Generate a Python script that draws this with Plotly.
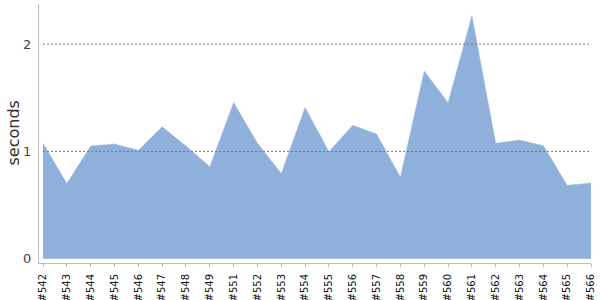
import plotly.graph_objects as go

builds = ["#542", "#543", "#544", "#545", "#546", "#547", "#548", "#549", "#551", "#552",
          "#553", "#554", "#555", "#556", "#557", "#558", "#559", "#560", "#561", "#562",
          "#563", "#564", "#565", "#566"]
seconds = [1.075, 0.70, 1.05, 1.07, 1.01, 1.23, 1.05, 0.857, 1.457, 1.075,
           0.795, 1.41, 0.997, 1.243, 1.162, 0.76, 1.75, 1.454, 2.265, 1.075,
           1.106, 1.053, 0.684, 0.705]
grid_values = [1, 2]
y_ticks = [0, 1, 2]
y_title = "seconds"

fig = go.Figure()
fig.add_trace(go.Scatter(
    x=list(range(len(builds))), y=seconds, mode="lines", fill="tozeroy",
    fillcolor="#8fb0da", line=dict(width=0.5, color="#9dbbe0"),
    hoverinfo="skip", showlegend=False,
))

shapes = []
for g in grid_values:
    shapes.append(dict(type="line", xref="x", yref="y", x0=0, x1=len(builds) - 1,
                       y0=g, y1=g, layer="above",
                       line=dict(color="#777777", width=1, dash="2px,2px")))

fig.update_layout(
    width=600, height=300,
    margin=dict(l=39, r=9, t=4, b=37),
    paper_bgcolor="white", plot_bgcolor="white",
    font=dict(family="DejaVu Sans", color="#444444"),
    shapes=shapes,
    annotations=[dict(text=y_title, xref="paper", yref="paper", x=-26 / 552, y=0.5,
                      xanchor="center", yanchor="middle", textangle=-90, showarrow=False,
                      font=dict(size=16, color="#333333"))],
    xaxis=dict(
        range=[-0.17, len(builds) - 1], tickmode="array",
        tickvals=list(range(len(builds))), ticktext=builds,
        tickangle=-90, tickfont=dict(size=10, color="#111111"),
        showgrid=False, zeroline=False, showline=True, linecolor="#bbbbbb",
        linewidth=1, ticks="outside", ticklen=3, tickcolor="#bbbbbb",
        ticklabelstandoff=3, automargin=False,
    ),
    yaxis=dict(
        range=[-0.04, 2.374], tickmode="array", tickvals=y_ticks,
        ticktext=[str(v) for v in y_ticks],
        tickfont=dict(size=13, color="#444444"),
        showgrid=False, zeroline=False, showline=True, linecolor="#bbbbbb",
        linewidth=1, ticks="", ticklabelstandoff=4, automargin=False,
    ),
)

fig.write_html("out.html")
